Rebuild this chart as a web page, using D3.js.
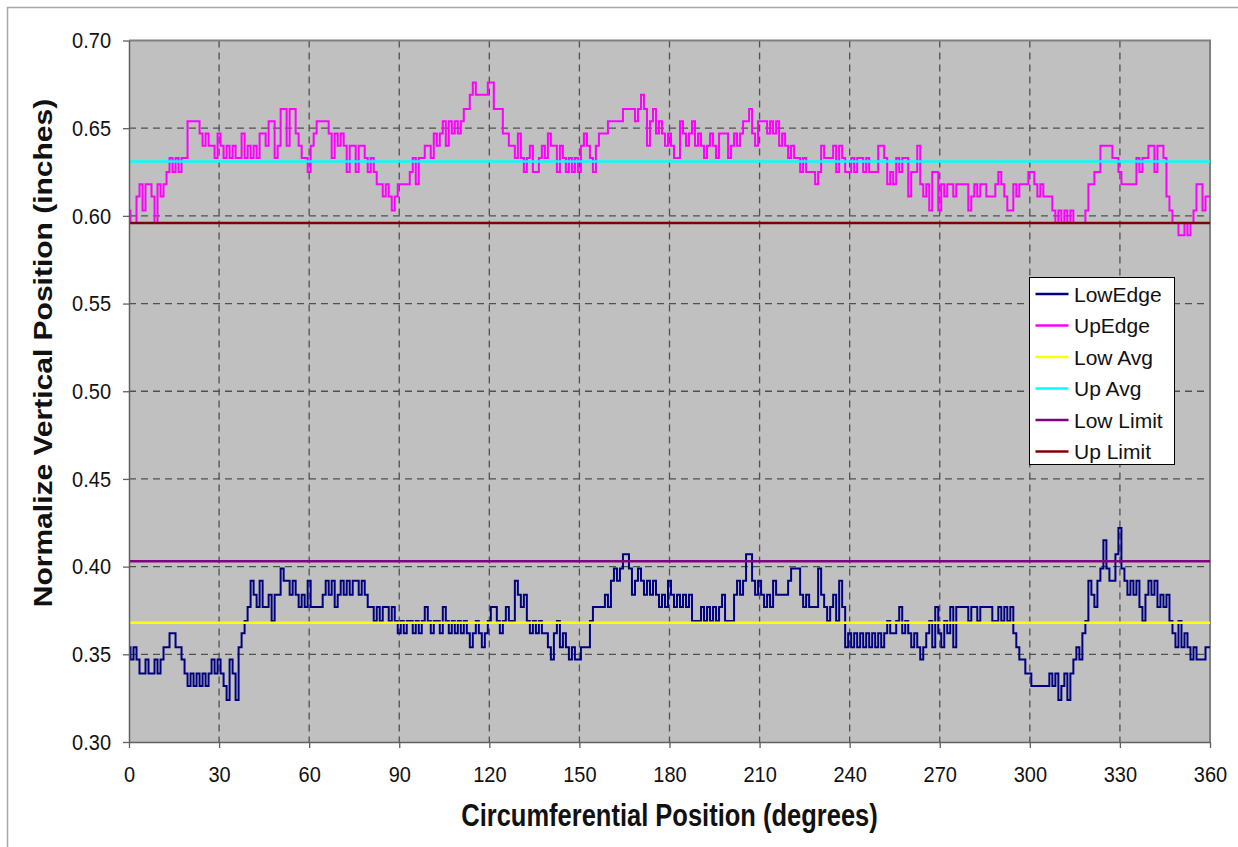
<!DOCTYPE html>
<html>
<head>
<meta charset="utf-8">
<script src="https://cdn.jsdelivr.net/npm/d3@7"></script>
<style>
  body { margin: 0; background: #ffffff; }
  text { font-family: "Liberation Sans", Arial, sans-serif; fill: #111; }
</style>
</head>
<body>
<svg id="chart" width="1238" height="847"></svg>
<script>
// Sample positions around the circumference (degrees)
const angles = d3.range(0, 361);

// Lower edge of the band, one reading per degree (inches)
const lowEdge = [
  .354,.347,.354,.347,.339,.339,.347,.339,.339,.347,
  .339,.347,.354,.354,.362,.362,.354,.354,.347,.339,
  .332,.339,.332,.339,.332,.339,.332,.339,.347,.339,
  .347,.339,.332,.324,.347,.339,.324,.354,.362,.369,
  .377,.392,.384,.377,.392,.377,.377,.384,.369,.384,
  .384,.399,.392,.392,.384,.392,.384,.377,.384,.377,
  .392,.377,.377,.377,.377,.384,.392,.384,.392,.377,
  .384,.392,.384,.392,.384,.392,.392,.384,.392,.384,
  .377,.377,.369,.377,.369,.377,.377,.369,.377,.369,
  .362,.369,.362,.369,.369,.362,.369,.362,.369,.377,
  .369,.362,.369,.369,.362,.377,.369,.362,.369,.362,
  .369,.362,.369,.362,.354,.362,.369,.362,.354,.362,
  .369,.377,.377,.369,.362,.369,.377,.369,.369,.392,
  .384,.377,.384,.369,.362,.369,.362,.369,.362,.362,
  .354,.347,.362,.369,.354,.362,.354,.347,.354,.347,
  .347,.354,.354,.354,.369,.377,.377,.377,.377,.384,
  .377,.392,.399,.392,.399,.407,.407,.399,.384,.392,
  .399,.392,.384,.392,.384,.392,.384,.377,.384,.377,
  .392,.384,.377,.384,.377,.384,.377,.384,.369,.369,
  .369,.377,.369,.377,.369,.377,.369,.377,.384,.369,
  .369,.369,.384,.392,.384,.392,.407,.407,.392,.384,
  .392,.384,.377,.384,.377,.392,.384,.384,.384,.384,
  .392,.399,.399,.399,.384,.377,.384,.377,.377,.377,
  .399,.384,.377,.369,.377,.384,.369,.392,.377,.354,
  .362,.354,.362,.354,.362,.354,.362,.354,.362,.354,
  .362,.354,.362,.369,.362,.362,.369,.377,.362,.369,
  .362,.354,.362,.354,.347,.354,.362,.369,.354,.377,
  .362,.354,.369,.362,.377,.354,.377,.377,.377,.377,
  .369,.377,.377,.369,.377,.377,.377,.377,.369,.369,
  .377,.369,.377,.369,.377,.362,.354,.347,.347,.339,
  .339,.332,.332,.332,.332,.332,.332,.339,.332,.339,
  .324,.332,.339,.324,.339,.347,.354,.347,.362,.369,
  .392,.384,.377,.392,.399,.415,.399,.392,.392,.407,
  .422,.399,.392,.384,.392,.384,.392,.377,.369,.384,
  .392,.384,.392,.377,.384,.377,.384,.369,.362,.354,
  .369,.354,.362,.354,.347,.354,.347,.347,.347,.354,.354
];

// Upper edge of the band, one reading per degree (inches)
const upEdge = [
  .603,.596,.596,.611,.618,.603,.618,.618,.611,.596,
  .618,.611,.618,.625,.633,.625,.633,.625,.633,.633,
  .654,.654,.654,.654,.647,.640,.647,.640,.640,.633,
  .647,.640,.633,.640,.633,.640,.633,.633,.647,.633,
  .640,.633,.640,.633,.647,.647,.640,.654,.654,.633,
  .640,.661,.661,.640,.661,.661,.647,.640,.633,.633,
  .625,.640,.647,.654,.654,.654,.654,.647,.633,.647,
  .640,.647,.640,.625,.640,.640,.625,.640,.640,.633,
  .625,.633,.625,.618,.618,.611,.618,.611,.603,.611,
  .618,.618,.618,.618,.625,.633,.618,.633,.633,.640,
  .640,.633,.647,.640,.647,.654,.640,.654,.647,.654,
  .647,.654,.661,.661,.669,.676,.669,.669,.669,.669,
  .676,.676,.661,.661,.661,.647,.647,.640,.640,.633,
  .647,.633,.625,.633,.640,.625,.625,.633,.640,.633,
  .647,.640,.640,.625,.640,.633,.625,.633,.625,.633,
  .625,.640,.647,.640,.633,.625,.640,.647,.647,.647,
  .654,.654,.654,.654,.654,.661,.661,.661,.661,.654,
  .661,.669,.661,.640,.654,.661,.647,.654,.647,.640,
  .647,.640,.633,.633,.654,.647,.640,.647,.654,.640,
  .647,.640,.633,.640,.647,.640,.633,.647,.647,.647,
  .633,.640,.647,.640,.647,.654,.654,.661,.647,.640,
  .654,.654,.654,.647,.654,.647,.654,.640,.647,.640,
  .633,.640,.633,.633,.625,.633,.625,.625,.625,.618,
  .625,.640,.633,.633,.633,.640,.625,.640,.633,.625,
  .625,.633,.625,.633,.633,.625,.633,.625,.625,.625,
  .640,.640,.633,.618,.625,.618,.633,.625,.633,.633,
  .611,.625,.625,.640,.618,.611,.618,.603,.625,.625,
  .603,.618,.611,.618,.618,.611,.618,.618,.618,.618,
  .603,.611,.618,.611,.618,.618,.611,.611,.611,.618,
  .625,.618,.611,.603,.603,.618,.611,.618,.618,.618,
  .625,.625,.618,.611,.618,.611,.611,.611,.603,.596,
  .603,.596,.603,.596,.603,.596,.596,.596,.596,.603,
  .618,.618,.625,.625,.640,.640,.640,.640,.633,.633,
  .625,.618,.618,.618,.618,.618,.633,.625,.633,.633,
  .640,.640,.625,.640,.640,.633,.611,.603,.596,.596,
  .589,.589,.596,.589,.596,.603,.618,.618,.603,.611,.611
];

// Reference levels (inches)
const lowAvg = 0.368;
const upAvg = 0.631;
const lowLimit = 0.403;
const upLimit = 0.596;

// Axis ticks
const xTicks = [0, 30, 60, 90, 120, 150, 180, 210, 240, 270, 300, 330, 360];
const yTicks = [0.30, 0.35, 0.40, 0.45, 0.50, 0.55, 0.60, 0.65, 0.70];

// Series names and colours, in drawing order
const seriesNames = ["LowEdge", "UpEdge", "Low Avg", "Up Avg", "Low Limit", "Up Limit"];
const seriesColors = ["#000080", "#ff00ff", "#ffff00", "#00ffff", "#800080", "#800000"];

const titleStretch = 1.2;  // axis titles are drawn taller than wide
const tickStretch = 1.1;
const svg = d3.select("#chart");

const plot = { left: 129, right: 1210, top: 40.5, bottom: 742 };
const x = d3.scaleLinear().domain([0, 360]).range([plot.left, plot.right]);
const y = d3.scaleLinear().domain([0.30, 0.70]).range([plot.bottom, plot.top]);

// Outer frame
svg.append("rect")
  .attr("x", 7.5).attr("y", 7.5).attr("width", 1240).attr("height", 850)
  .attr("fill", "#ffffff").attr("stroke", "#a8a8a8").attr("stroke-width", 1.5);

// Plot area
svg.append("rect")
  .attr("x", plot.left).attr("y", plot.top)
  .attr("width", plot.right - plot.left).attr("height", plot.bottom - plot.top)
  .attr("fill", "#c0c0c0");

// Dashed gridlines
const grid = svg.append("g").attr("stroke", "#505050").attr("stroke-width", 1.3)
  .attr("stroke-dasharray", "7,5");
grid.selectAll("line.h").data(yTicks.filter(v => v > 0.30 && v < 0.70)).join("line")
  .attr("x1", plot.left).attr("x2", plot.right)
  .attr("y1", d => y(d)).attr("y2", d => y(d));
grid.selectAll("line.v").data(xTicks.filter(v => v > 0 && v < 360)).join("line")
  .attr("y1", plot.top).attr("y2", plot.bottom)
  .attr("x1", d => x(d)).attr("x2", d => x(d));

// Plot border on top and right
svg.append("path")
  .attr("d", `M${plot.left},${plot.top}H${plot.right}V${plot.bottom}`)
  .attr("fill", "none").attr("stroke", "#808080").attr("stroke-width", 2);

// Series
const line = d3.line().x((d, i) => x(angles[i])).y(d => y(d)).curve(d3.curveStep);
const flat = v => d3.line()([[x(0), y(v)], [x(360), y(v)]]);

svg.append("path").attr("d", line(lowEdge)).attr("fill", "none")
  .attr("stroke", seriesColors[0]).attr("stroke-width", 2).attr("stroke-linejoin", "miter");
svg.append("path").attr("d", line(upEdge)).attr("fill", "none")
  .attr("stroke", seriesColors[1]).attr("stroke-width", 2).attr("stroke-linejoin", "miter");
[lowAvg, upAvg, lowLimit, upLimit].forEach((v, k) => {
  svg.append("path").attr("d", flat(v)).attr("fill", "none")
    .attr("stroke", seriesColors[k + 2]).attr("stroke-width", 2.5);
});

// Axes
const yAxis = svg.append("g").attr("transform", `translate(${plot.left},0)`)
  .call(d3.axisLeft(y).tickValues(yTicks).tickFormat(d3.format(".2f")).tickSizeInner(6).tickSizeOuter(0));
const xAxis = svg.append("g").attr("transform", `translate(0,${plot.bottom})`)
  .call(d3.axisBottom(x).tickValues(xTicks).tickFormat(d3.format("d")).tickSizeInner(6).tickSizeOuter(0));

[yAxis, xAxis].forEach(g => {
  g.select(".domain").attr("stroke", "#606060").attr("stroke-width", 1.5);
  g.selectAll(".tick line").attr("stroke", "#606060").attr("stroke-width", 1.3);
  g.selectAll(".tick text").attr("font-size", 20).attr("fill", "#111")
    .attr("font-family", '"Liberation Sans", Arial, sans-serif');
});
yAxis.selectAll(".tick text").attr("x", -18).attr("dy", 0).attr("y", 7.2 / tickStretch)
  .attr("transform", `scale(1,${tickStretch})`);
xAxis.selectAll(".tick text").attr("y", 40 / tickStretch).attr("dy", 0)
  .attr("transform", `scale(1,${tickStretch})`);

// Axis titles
svg.append("text")
  .attr("transform", `translate(${(plot.left + plot.right) / 2},826) scale(1,${titleStretch})`)
  .attr("text-anchor", "middle").attr("font-size", 25.5).attr("font-weight", "bold")
  .text("Circumferential Position (degrees)");
svg.append("text")
  .attr("transform", `translate(52,353) scale(1,${titleStretch}) rotate(-90)`)
  .attr("text-anchor", "middle").attr("font-size", 25).attr("font-weight", "bold")
  .text("Normalize Vertical Position (inches)");

// Legend
const legend = svg.append("g").attr("transform", "translate(1029.5,277.5)");
legend.append("rect").attr("width", 145).attr("height", 187)
  .attr("fill", "#ffffff").attr("stroke", "#000").attr("stroke-width", 1);
const rows = legend.selectAll("g.row").data(seriesNames).join("g")
  .attr("transform", (d, i) => `translate(0,${16.5 + i * 31.5})`);
rows.append("line").attr("x1", 6).attr("x2", 39).attr("y1", 0).attr("y2", 0)
  .attr("stroke", (d, i) => seriesColors[i]).attr("stroke-width", 2.5);
rows.append("text").attr("x", 44.5).attr("y", 7.5)
  .attr("font-size", 21).text(d => d);
</script>
</body>
</html>
